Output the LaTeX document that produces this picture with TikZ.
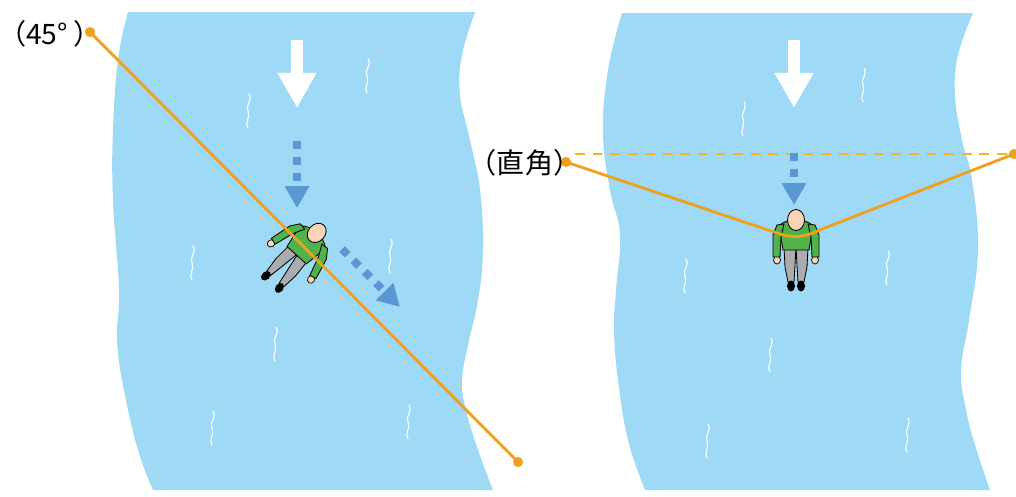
\documentclass[tikz,border=0pt]{standalone}
\usepackage{fontspec}
\newfontfamily\jpfont{Noto Sans CJK JP}
\usetikzlibrary{arrows.meta}

\definecolor{riverblue}{RGB}{158,217,246}
\definecolor{ropeorange}{RGB}{240,160,30}
\definecolor{guideorange}{RGB}{246,178,40}
\definecolor{flowblue}{RGB}{90,152,212}
\definecolor{shirtgreen}{RGB}{82,178,74}
\definecolor{pantsgray}{RGB}{172,172,174}
\definecolor{skin}{RGB}{250,212,182}

\tikzset{
    pics/ripple/.style={code={
        \draw[white, line width=0.8pt, line cap=round]
            (1,-17) .. controls (5,-10) and (-3,-6) .. (0,0)
            .. controls (3,6) and (-4,12) .. (0,17);
    }},
    pics/wader/.style 2 args={code={
        % legs and shoes
        \foreach \s in {-1,1} {
            \begin{scope}[rotate around={\s*#2:(\s*6,8)}]
                \filldraw[fill=pantsgray, draw=black, line width=0.6pt]
                    (0,8) -- (\s*12,8) -- (\s*11,28) -- (\s*8,43) -- (\s*2,43) -- (\s*1,26) -- cycle;
                \fill[black] (\s*5,47) ellipse (4 and 5.5);
            \end{scope}
        }
        % shirt
        \filldraw[fill=shirtgreen, draw=black, line width=0.6pt]
            (-17,-13) .. controls (-11,-21) and (11,-21) .. (17,-13) -- (13,11) -- (-13,11) -- cycle;
        % arms and hands
        \foreach \s in {-1,1} {
            \begin{scope}[rotate around={\s*#1:(\s*16,-12)}]
                \filldraw[fill=skin, draw=black, line width=0.5pt] (\s*19,21) ellipse (3.5 and 4);
                \filldraw[fill=shirtgreen, draw=black, line width=0.6pt]
                    (\s*12,-15) -- (\s*19,-14) -- (\s*23,-4) -- (\s*23,18) -- (\s*16,18) -- (\s*15,-2) -- cycle;
            \end{scope}
        }
        % head
        \filldraw[fill=skin, draw=black, line width=0.6pt] (0,-19) ellipse (8.5 and 10.5);
    }}
}

\begin{document}
\begin{tikzpicture}[
    x=0.025cm,
    y=-0.025cm,
    river/.style={fill=riverblue},
    rope/.style={ropeorange, line width=2pt, line join=round},
    tie/.style={fill=ropeorange},
    current/.style={white, line width=8.5pt, -{Triangle[length=25pt, width=26pt]}},
    drift/.style={flowblue, line width=5.7pt, dash pattern=on 5.7pt off 5.7pt,
        -{Triangle[length=15.5pt, width=16.5pt]}},
    tag/.style={font=\jpfont\fontsize{20pt}{24pt}\selectfont, inner sep=0pt}
]
    \useasboundingbox (0,0) rectangle (1016,496);
    \fill[white] (0,0) rectangle (1016,496);

    % the two stretches of river
    \fill[river] plot[smooth, tension=0.7] coordinates {(128,12) (118,60) (113,130) (113,200) (119,290) (117,340) (124,390) (138,450) (153,490)}
        -- plot[smooth, tension=0.7] coordinates {(493,490) (478,450) (466,410) (462,380) (468,345) (478,300) (483,250) (480,190) (470,140) (460,95) (462,55) (475,12)}
        -- cycle;
    \fill[river] plot[smooth, tension=0.7] coordinates {(622,13) (608,70) (603,133) (610,190) (620,235) (616,290) (614,330) (618,380) (628,440) (645,490)}
        -- plot[smooth, tension=0.7] coordinates {(990,490) (975,445) (966,410) (961,370) (969,320) (978,250) (972,180) (962,140) (955,95) (958,55) (973,13)}
        -- cycle;

    \foreach \p in {(367,76),(248,111),(192,263),(390,256),(275,344),(212,428),(408,422),
                    (863,85),(743,119),(685,276),(887,268),(770,355),(707,441),(907,435)}
        \pic at \p {ripple};

    % anchor points of the ropes
    \coordinate (tieA) at (90,32);
    \coordinate (tieB) at (518,462);
    \coordinate (tieL) at (566,162);
    \coordinate (tieR) at (1014,154);
    \coordinate (guideL) at (575,154);

    \draw[guideorange, line width=1.5pt, dash pattern=on 7pt off 5.5pt] (guideL) -- (tieR);

    % flow of the water
    \draw[current] (297,40) -- (297,108);
    \draw[current] (794,40) -- (794,108);
    \draw[drift] (297,141) -- (297,208);
    \draw[drift] (342,249) -- (400,307);
    \draw[drift] (794,153) -- (794,205);

    \pic[rotate=-42] at (304,247) {wader={14}{6}};
    \pic at (796,239) {wader={0}{0}};

    \draw[rope] (tieA) -- (tieB);
    \draw[rope] (tieL) -- (777,233) .. controls (790,238) and (804,238) .. (817,231) -- (tieR);
    \foreach \t in {tieA,tieB,tieL,tieR}
        \fill[tie] (\t) circle (3.6pt);

    \node[tag] (ang45) at (50,34) {（45°\hspace{0.2em}）};
    \node[tag] (angRight) at (525,163) {（直角）};
\end{tikzpicture}
\end{document}
